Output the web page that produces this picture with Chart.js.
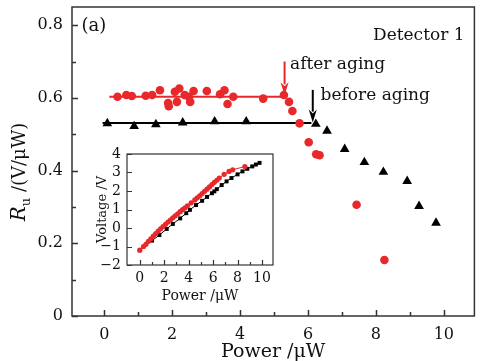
<!DOCTYPE html>
<html><head><meta charset="utf-8">
<script src="https://cdn.jsdelivr.net/npm/chart.js@4"></script>
<style>
html,body{margin:0;padding:0;background:#fff;}
#wrap{position:relative;width:480px;height:361px;overflow:hidden;}
#main{position:absolute;left:0;top:0;width:480px;height:361px;}
#inset{position:absolute;left:95px;top:145px;width:185px;height:160px;}
</style></head><body>
<div id="wrap"><canvas id="main" width="480" height="361"></canvas><canvas id="inset" width="185" height="160"></canvas></div>
<script>
// ---------- main chart data ----------
const beforeX = [0.09,0.88,1.52,2.31,3.25,4.18,6.23,6.56,7.08,7.66,8.22,8.92,9.27,9.77];
const beforeY = [0.530,0.522,0.527,0.532,0.535,0.535,0.528,0.509,0.459,0.423,0.396,0.371,0.302,0.256];
const afterX = [0.39,0.65,0.81,1.22,1.41,1.64,1.88,1.90,2.08,2.14,2.21,2.37,2.49,2.53,2.63,3.02,3.41,3.54,3.63,3.80,4.68,5.29,5.44,5.54,5.75,6.02,6.24,6.34,7.43,8.25];
const afterY = [0.603,0.608,0.605,0.606,0.608,0.621,0.586,0.577,0.617,0.589,0.626,0.608,0.603,0.589,0.619,0.619,0.610,0.621,0.583,0.603,0.598,0.608,0.589,0.564,0.530,0.478,0.445,0.442,0.306,0.154];
const afterFitX = [0.15,5.3];
const afterFitY = [0.603,0.603];
const beforeFitX = [-0.05,6.1];
const beforeFitY = [0.531,0.531];
const xMajor = [0,2,4,6,8,10];
const xMinor = [1,3,5,7,9];
const yMajor = [0,0.2,0.4,0.6,0.8];
const yMinor = [0.1,0.3,0.5,0.7];
// annotation arrows (data coords)
const arrowX = [5.31,6.14];
const arrowFrom = [0.700,0.622];
const arrowTo = [0.607,0.532];
const arrowColor = ['#e8282b','#000000'];
const noteText = ['(a)','Detector 1','after aging','before aging'];
const noteX = [-0.67,10.61,5.47,6.37];
const noteY = [0.783,0.759,0.679,0.594];
const noteAlign = ['left','right','left','left'];

// ---------- inset data ----------
const inRedX = [0,0.3,0.5,0.7,0.9,1.1,1.3,1.5,1.7,1.9,2.1,2.3,2.5,2.7,2.9,3.1,3.3,3.5,3.7,3.9,4.2,4.5,4.7,4.9,5.1,5.3,5.5,5.7,5.9,6.1,6.3,6.5,6.9,7.3,7.6,8.6];
const inRedY = [-1.2,-1.0,-0.88,-0.72,-0.58,-0.44,-0.3,-0.17,-0.04,0.08,0.2,0.32,0.43,0.55,0.66,0.77,0.88,0.99,1.09,1.2,1.36,1.52,1.63,1.74,1.86,1.98,2.1,2.22,2.35,2.47,2.58,2.7,2.9,3.06,3.15,3.32];
const inBlkX = [0,1.0,1.6,2.2,2.7,3.3,3.8,4.1,4.6,5.1,5.5,5.9,6.1,6.3,6.7,7.1,7.5,8.0,8.4,8.8,9.2,9.5,9.8];
const inBlkY = [-1.2,-0.68,-0.38,-0.05,0.22,0.52,0.8,0.98,1.24,1.47,1.68,1.88,1.98,2.1,2.32,2.52,2.7,2.9,3.06,3.2,3.33,3.43,3.52];
const inXMajor = [0,2,4,6,8,10];
const inXMinor = [1,3,5,7,9];
const inYMajor = [-2,-1,0,1,2,3,4];

const FONT = '"DejaVu Serif", serif';
const RED = '#e8282b';
const TXT = '#111';
const pts = (xs, ys) => xs.map((x, i) => ({x, y: ys[i]}));
function noPad(s) { s.paddingTop = 0; s.paddingBottom = 0; s.paddingLeft = 0; s.paddingRight = 0; }

function drawFrameTicks(chart, o) {
  const {ctx, chartArea: a} = chart;
  const xs = chart.scales.x, ys = chart.scales.y;
  ctx.save();
  ctx.strokeStyle = '#333';
  ctx.lineWidth = o.lw;
  ctx.strokeRect(a.left, a.top, a.right - a.left, a.bottom - a.top);
  ctx.beginPath();
  o.xMajor.forEach(v => { const p = Math.round(xs.getPixelForValue(v)) + 0.5; ctx.moveTo(p, a.bottom); ctx.lineTo(p, a.bottom - o.maj); });
  o.xMinor.forEach(v => { const p = Math.round(xs.getPixelForValue(v)) + 0.5; ctx.moveTo(p, a.bottom); ctx.lineTo(p, a.bottom - o.min); });
  o.yMajor.forEach(v => { const p = Math.round(ys.getPixelForValue(v)) + 0.5; ctx.moveTo(a.left, p); ctx.lineTo(a.left + o.maj, p); });
  (o.yMinor || []).forEach(v => { const p = Math.round(ys.getPixelForValue(v)) + 0.5; ctx.moveTo(a.left, p); ctx.lineTo(a.left + o.min, p); });
  ctx.stroke();
  ctx.restore();
}

const mainPlugin = {
  id: 'mainDeco',
  afterDraw(chart) {
    const {ctx} = chart;
    const xs = chart.scales.x, ys = chart.scales.y;
    drawFrameTicks(chart, {lw: 1.5, maj: 6, min: 4, xMajor, xMinor, yMajor, yMinor});
    // arrows
    arrowX.forEach((v, i) => {
      const px = xs.getPixelForValue(v);
      const y0 = ys.getPixelForValue(arrowFrom[i]);
      const y1 = ys.getPixelForValue(arrowTo[i]);
      const hl = 13, hw = 4;
      ctx.save();
      ctx.strokeStyle = arrowColor[i]; ctx.fillStyle = arrowColor[i];
      ctx.lineWidth = 2;
      ctx.beginPath(); ctx.moveTo(px, y0); ctx.lineTo(px, y1 - hl + 2); ctx.stroke();
      ctx.beginPath(); ctx.moveTo(px, y1); ctx.lineTo(px - hw, y1 - hl); ctx.lineTo(px, y1 - hl + 4); ctx.lineTo(px + hw, y1 - hl); ctx.closePath(); ctx.fill();
      ctx.restore();
    });
    // notes
    ctx.save();
    ctx.fillStyle = TXT;
    ctx.textBaseline = 'alphabetic';
    noteText.forEach((t, i) => {
      ctx.font = (i === 0 ? '18px ' : '17px ') + FONT;
      ctx.textAlign = noteAlign[i];
      ctx.fillText(t, xs.getPixelForValue(noteX[i]), ys.getPixelForValue(noteY[i]));
    });
    ctx.restore();
    // y title R_u /(V/μW)
    ctx.save();
    const cy = 172;
    ctx.translate(25, cy);
    ctx.rotate(-Math.PI / 2);
    ctx.fillStyle = TXT;
    ctx.textBaseline = 'alphabetic';
    ctx.textAlign = 'left';
    const fR = 'italic 20px ' + FONT, fU = '13px ' + FONT, fM = '18px ' + FONT;
    const rest = ' /(V/\u03bcW)';
    ctx.font = fR; const wR = ctx.measureText('R').width;
    ctx.font = fU; const wU = ctx.measureText('u').width;
    ctx.font = fM; const wM = ctx.measureText(rest).width;
    let x = -(wR + wU + wM) / 2;
    ctx.font = fR; ctx.fillText('R', x, 0); x += wR;
    ctx.font = fU; ctx.fillText('u', x, 5); x += wU;
    ctx.font = fM; ctx.fillText(rest, x, 0);
    ctx.restore();
  }
};

new Chart(document.getElementById('main'), {
  type: 'scatter',
  data: {datasets: [
    {data: pts(afterX, afterY), pointStyle: 'circle', pointRadius: 4.3, backgroundColor: RED, borderWidth: 0},
    {data: pts(beforeX, beforeY), pointStyle: 'triangle', pointRadius: 5.6, backgroundColor: '#000', borderWidth: 0},
    {data: pts(afterFitX, afterFitY), showLine: true, borderColor: RED, borderWidth: 2, pointRadius: 0},
    {data: pts(beforeFitX, beforeFitY), showLine: true, borderColor: '#000', borderWidth: 2, pointRadius: 0}
  ]},
  options: {
    responsive: false, animation: false, devicePixelRatio: 1,
    layout: {padding: {top: 7, right: 3, left: 0, bottom: 0}},
    plugins: {legend: {display: false}, tooltip: {enabled: false}},
    scales: {
      x: {type: 'linear', min: -0.95, max: 10.9,
        afterFit(s) { s.height = 45; noPad(s); },
        grid: {display: false, drawTicks: false}, border: {display: false},
        ticks: {stepSize: 1, autoSkip: false, includeBounds: false, maxRotation: 0, padding: 9, color: TXT,
          font: {family: FONT, size: 16},
          callback: v => (Math.round(v) % 2 === 0 ? String(Math.round(v)) : '')},
        title: {display: true, text: 'Power /\u03bcW', color: TXT, font: {family: FONT, size: 19}, padding: {top: 0, bottom: -2}}
      },
      y: {type: 'linear', min: 0, max: 0.85,
        afterFit(s) { s.width = 72; noPad(s); },
        grid: {display: false, drawTicks: false}, border: {display: false},
        ticks: {stepSize: 0.1, autoSkip: false, includeBounds: false, padding: 9, color: TXT,
          font: {family: FONT, size: 16},
          callback: v => { const k = Math.round(v * 10); if (k % 2) return ''; return k === 0 ? '0' : (k / 10).toFixed(1); }}
      }
    }
  },
  plugins: [mainPlugin]
});

const insetPlugin = {
  id: 'insetDeco',
  beforeDraw(chart) {
    const {ctx, chartArea: a} = chart;
    ctx.save(); ctx.fillStyle = '#fff'; ctx.fillRect(a.left, a.top, a.right - a.left, a.bottom - a.top); ctx.restore();
  },
  afterDraw(chart) {
    drawFrameTicks(chart, {lw: 1.2, maj: 5, min: 3, xMajor: inXMajor, xMinor: inXMinor, yMajor: inYMajor, yMinor: []});
  }
};

new Chart(document.getElementById('inset'), {
  type: 'scatter',
  data: {datasets: [
    {data: pts(inRedX, inRedY), showLine: true, borderColor: RED, borderWidth: 1, pointStyle: 'circle', pointRadius: 2.6, backgroundColor: RED, pointBorderWidth: 0},
    {data: pts(inBlkX, inBlkY), showLine: true, borderColor: '#000', borderWidth: 1, pointStyle: 'rect', pointRadius: 2.8, backgroundColor: '#000', pointBorderWidth: 0}
  ]},
  options: {
    responsive: false, animation: false, devicePixelRatio: 1,
    layout: {padding: {top: 9, right: 7, left: 0, bottom: 0}},
    plugins: {legend: {display: false}, tooltip: {enabled: false}},
    scales: {
      x: {type: 'linear', min: -1.05, max: 10.9,
        afterFit(s) { s.height = 40; noPad(s); },
        grid: {display: false, drawTicks: false}, border: {display: false},
        ticks: {stepSize: 1, autoSkip: false, includeBounds: false, maxRotation: 0, padding: 5, color: TXT,
          font: {family: FONT, size: 14},
          callback: v => (Math.round(v) % 2 === 0 ? String(Math.round(v)) : '')},
        title: {display: true, text: 'Power /\u03bcW', color: TXT, font: {family: FONT, size: 14}, padding: {top: 0, bottom: 0}}
      },
      y: {type: 'linear', min: -2, max: 4,
        afterFit(s) { s.width = 32; noPad(s); },
        grid: {display: false, drawTicks: false}, border: {display: false},
        ticks: {stepSize: 1, autoSkip: false, includeBounds: false, padding: 6, color: TXT,
          font: {family: FONT, size: 14},
          callback: v => (v < 0 ? '\u2212' + Math.abs(v) : String(v))},
        title: {display: true, text: 'Voltage /V', color: TXT, font: {family: FONT, size: 13}, padding: {top: 0, bottom: 0}}
      }
    }
  },
  plugins: [insetPlugin]
});
</script>
</body></html>
